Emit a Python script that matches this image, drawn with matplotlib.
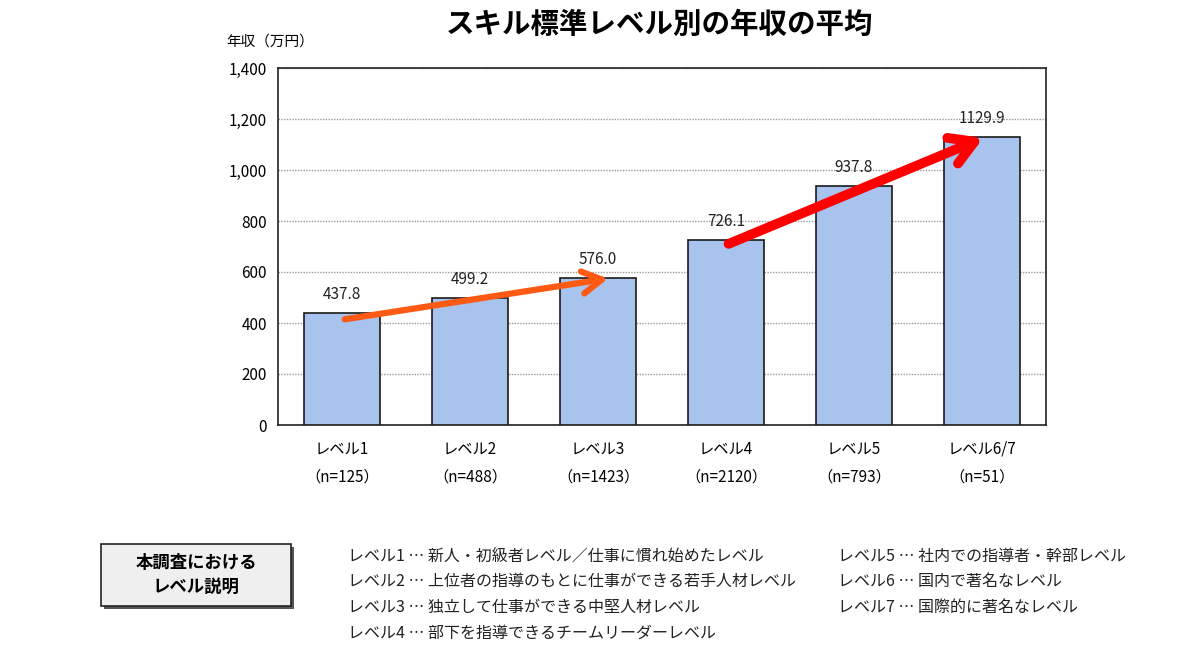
import matplotlib.pyplot as plt
from matplotlib.patches import FancyBboxPatch

plt.rcParams['font.family'] = ['Noto Sans CJK JP', 'DejaVu Sans']

levels = ["レベル1", "レベル2", "レベル3", "レベル4", "レベル5", "レベル6/7"]
counts = ["（n=125）", "（n=488）", "（n=1423）", "（n=2120）", "（n=793）", "（n=51）"]
salaries = [437.8, 499.2, 576.0, 726.1, 937.8, 1129.9]
yticks = [0, 200, 400, 600, 800, 1000, 1200, 1400]

notes_left = [
    "レベル1 … 新人・初級者レベル／仕事に慣れ始めたレベル",
    "レベル2 … 上位者の指導のもとに仕事ができる若手人材レベル",
    "レベル3 … 独立して仕事ができる中堅人材レベル",
    "レベル4 … 部下を指導できるチームリーダーレベル",
]
notes_right = [
    "レベル5 … 社内での指導者・幹部レベル",
    "レベル6 … 国内で著名なレベル",
    "レベル7 … 国際的に著名なレベル",
]

fig = plt.figure(figsize=(12, 6.69), dpi=100)
ax = fig.add_axes([278 / 1200, 1 - 425 / 669, 768 / 1200, 357 / 669])

x = list(range(len(levels)))
ax.bar(x, salaries, width=0.59, color='#a7c3ee', edgecolor='#1a1a1a', linewidth=1.2, zorder=3)

for i, v in enumerate(salaries):
    ax.text(i, v + 40, f"{v:.1f}", ha='center', va='bottom', fontsize=11, color='#222222')

ax.set_xlim(-0.5, len(levels) - 0.5)
ax.set_ylim(0, 1400)
ax.set_yticks(yticks)
ax.set_yticklabels([f"{t:,}" for t in yticks], fontsize=11)
ax.yaxis.grid(True, linestyle=(0, (1, 1)), color='#999999', linewidth=1, zorder=0)
ax.set_xticks(x)
ax.set_xticklabels([f"{l}\n{c}" for l, c in zip(levels, counts)], fontsize=11, linespacing=1.9)
ax.tick_params(axis='x', length=0, pad=11)
ax.tick_params(axis='y', length=0, pad=8)
for s in ax.spines.values():
    s.set_color('#222222')
    s.set_linewidth(1.2)

# trend arrows
ax.annotate("", xy=(2.1, salaries[2]), xytext=(0, salaries[0] - 25),
            arrowprops=dict(arrowstyle="->,head_length=1.4,head_width=0.8",
                            color='#ff5a14', lw=4.5, capstyle='round', joinstyle='round'), zorder=5)
ax.annotate("", xy=(5.03, salaries[5]), xytext=(3, salaries[3] - 20),
            arrowprops=dict(arrowstyle="->,head_length=1.7,head_width=1.0",
                            color='#ff0000', lw=7, capstyle='round', joinstyle='round'), zorder=5)

fig.text(660 / 1200, 1 - 25 / 669, "スキル標準レベル別の年収の平均", ha='center', va='center',
         fontsize=20.5, fontweight='bold')
fig.text(270 / 1200, 1 - 42 / 669, "年収（万円）", ha='center', va='center', fontsize=10.5)

# explanation box
shadow = FancyBboxPatch((104 / 1200, 1 - 609 / 669), 190 / 1200, 62 / 669,
                        boxstyle="square,pad=0", transform=fig.transFigure,
                        facecolor='#555555', edgecolor='none')
box = FancyBboxPatch((101 / 1200, 1 - 606 / 669), 190 / 1200, 62 / 669,
                     boxstyle="square,pad=0", transform=fig.transFigure,
                     facecolor='#efefef', edgecolor='#222222', linewidth=1.2)
fig.patches.extend([shadow, box])
fig.text(196 / 1200, 1 - 575 / 669, "本調査における\nレベル説明", ha='center', va='center',
         fontsize=12.5, fontweight='bold', linespacing=1.4)

for k, t in enumerate(notes_left):
    fig.text(348 / 1200, 1 - (556 + 25.7 * k) / 669, t, ha='left', va='center', fontsize=11.5,
             color='#222222')
for k, t in enumerate(notes_right):
    fig.text(838 / 1200, 1 - (556 + 25.7 * k) / 669, t, ha='left', va='center', fontsize=11.5,
             color='#222222')

fig.savefig("out.png", dpi=100, facecolor='white')
